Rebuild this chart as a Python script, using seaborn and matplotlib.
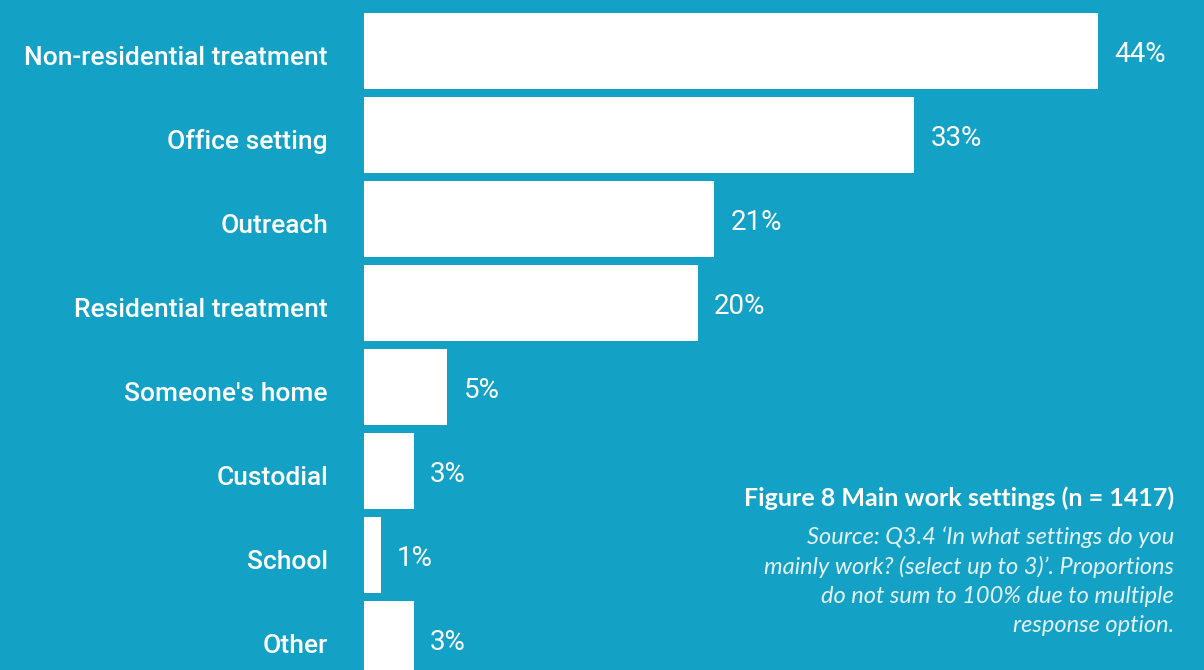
import matplotlib
matplotlib.use("Agg")
import matplotlib.pyplot as plt
import seaborn as sns
import pandas as pd

categories = ["Non-residential treatment", "Office setting", "Outreach",
              "Residential treatment", "Someone's home", "Custodial",
              "School", "Other"]
shares = [44, 33, 21, 20, 5, 3, 1, 3]
value_labels = ["44%", "33%", "21%", "20%", "5%", "3%", "1%", "3%"]

title = "Figure 8 Main work settings (n = 1417)"
note = ("Source: Q3.4 \u2018In what settings do you\n"
        "mainly work? (select up to 3)\u2019. Proportions\n"
        "do not sum to 100% due to multiple\n"
        "response option.")

BG = "#13a1c6"

sns.set_theme(style="white")
plt.rcParams["font.family"] = ["Roboto", "DejaVu Sans"]

df = pd.DataFrame({"setting": categories, "share": shares})

W, H = 1204, 670
fig = plt.figure(figsize=(W / 100, H / 100), dpi=100, facecolor=BG)
ax = fig.add_axes([364 / W, 0, (W - 364) / W, 1])
ax.set_facecolor(BG)

sns.barplot(data=df, x="share", y="setting", order=categories,
            color="white", saturation=1, width=0.905, ax=ax)
for p in ax.patches:
    p.set_edgecolor("none")

px_per_unit = 16.68
pitch = 84
ax.set_xlim(0, (W - 364) / px_per_unit)
ax.set_ylim((H - 51) / pitch, -51 / pitch)

for sp in ax.spines.values():
    sp.set_visible(False)
ax.set_xticks([])
ax.set_yticks([])
ax.set_xlabel("")
ax.set_ylabel("")

for i, (cat, v, lab) in enumerate(zip(categories, shares, value_labels)):
    ax.annotate(cat, xy=(0, i), xytext=(-36, -7), textcoords="offset pixels",
                ha="right", va="center", color="white", fontsize=19,
                fontweight="medium", annotation_clip=False)
    ax.annotate(lab, xy=(v, i), xytext=(16, -3), textcoords="offset pixels",
                ha="left", va="center", color="white", fontsize=20,
                fontweight="normal", annotation_clip=False)

fig.text(1174 / W, 1 - 498 / H, title, ha="right", va="center",
         color="white", fontsize=18, fontweight="bold",
         family=["Lato", "DejaVu Sans"])
fig.text(1174 / W, 1 - 526 / H, note, ha="right", va="top",
         color="#e4f3f8", fontsize=17, fontstyle="italic",
         fontweight="normal", linespacing=1.46,
         family=["Lato", "DejaVu Sans"])

fig.savefig("out.png", dpi=100, facecolor=BG)
